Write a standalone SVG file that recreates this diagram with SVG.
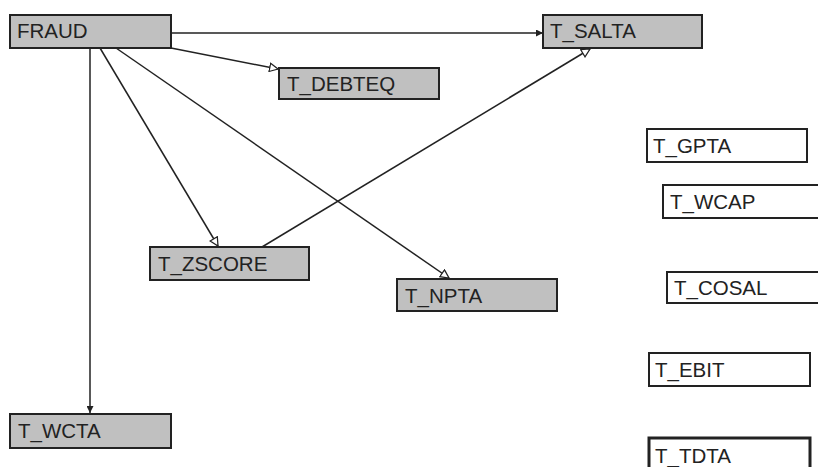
<svg xmlns="http://www.w3.org/2000/svg" width="818" height="467" viewBox="0 0 818 467">
<style>
.n rect{fill:#c0c0c0;stroke:#222;stroke-width:2}
.w rect{fill:#fff;stroke:#222;stroke-width:2}
text{font-family:"Liberation Sans",Arial,sans-serif;font-size:20.5px;fill:#222}
.e line{stroke:#222;stroke-width:1.5}
</style>
<defs>
<marker id="f" viewBox="0 0 10 10" refX="10" refY="5" markerWidth="7" markerHeight="7" markerUnits="userSpaceOnUse" orient="auto"><path d="M0,0 L10,5 L0,10 z" fill="#222"/></marker>
<marker id="o" viewBox="0 0 12 12" refX="11" refY="6" markerWidth="10" markerHeight="10" markerUnits="userSpaceOnUse" orient="auto"><path d="M1,1 L11,6 L1,11 z" fill="#fff" stroke="#222" stroke-width="1.5"/></marker>
</defs>
<g id="edges" class="e">
<line x1="171" y1="33" x2="543" y2="33" marker-end="url(#f)"/>
<line x1="171" y1="48" x2="278" y2="69" marker-end="url(#o)"/>
<line x1="100" y1="48" x2="218" y2="246" marker-end="url(#o)"/>
<line x1="116" y1="48" x2="449" y2="278" marker-end="url(#o)"/>
<line x1="90" y1="48" x2="90" y2="413" marker-end="url(#f)"/>
<line x1="262" y1="247" x2="590" y2="49" marker-end="url(#o)"/>
</g>
<g id="FRAUD" class="n"><rect x="10" y="15" width="161" height="33"/><text x="17" y="38">FRAUD</text></g>
<g id="T_SALTA" class="n"><rect x="543" y="15" width="159" height="33"/><text x="550" y="38">T_SALTA</text></g>
<g id="T_DEBTEQ" class="n"><rect x="279" y="68" width="160" height="31"/><text x="287" y="91">T_DEBTEQ</text></g>
<g id="T_ZSCORE" class="n"><rect x="150" y="247" width="159" height="33"/><text x="158" y="271">T_ZSCORE</text></g>
<g id="T_NPTA" class="n"><rect x="397" y="279" width="160" height="32"/><text x="405" y="303">T_NPTA</text></g>
<g id="T_WCTA" class="n"><rect x="10" y="414" width="161" height="34"/><text x="18" y="438">T_WCTA</text></g>
<g id="T_GPTA" class="w"><rect x="647" y="129" width="160" height="33"/><text x="653" y="153">T_GPTA</text></g>
<g id="T_WCAP" class="w"><rect x="663" y="185" width="165" height="33"/><text x="670" y="209">T_WCAP</text></g>
<g id="T_COSAL" class="w"><rect x="667" y="272" width="165" height="31"/><text x="674" y="295">T_COSAL</text></g>
<g id="T_EBIT" class="w"><rect x="649" y="353" width="161" height="33"/><text x="655" y="377">T_EBIT</text></g>
<g id="T_TDTA" class="w"><rect x="649" y="438" width="161" height="40" style="stroke-width:3"/><text x="655" y="463">T_TDTA</text></g>
</svg>
